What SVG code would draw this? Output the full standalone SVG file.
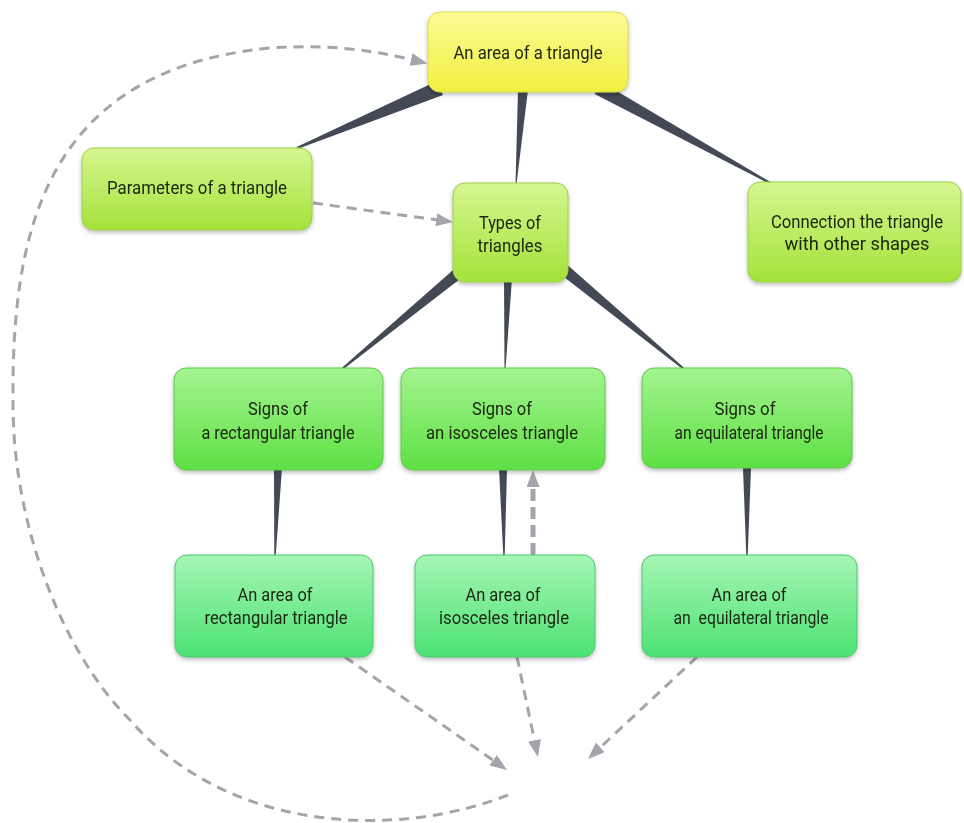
<svg xmlns="http://www.w3.org/2000/svg" width="964" height="823" viewBox="0 0 964 823">
<style>
.t{font-family:Roboto,"Liberation Sans",sans-serif;font-size:19px;fill:#1b2510;text-anchor:middle;white-space:pre}
.w{fill:#434a56}
.d{fill:none;stroke:#a4a4ac;stroke-width:3;stroke-dasharray:10 7;marker-end:url(#ah)}
.n{filter:url(#sh)}
.y{fill:url(#gy);stroke:#dada4a;stroke-width:1}
.l{fill:url(#gl);stroke:#9ad04a;stroke-width:1}
.s{fill:url(#gs);stroke:#5cc84a;stroke-width:1}
.a{fill:url(#ga);stroke:#4cc870;stroke-width:1}
</style>
<defs>
<linearGradient id="gy" x1="0" y1="0" x2="0" y2="1"><stop offset="0" stop-color="#fbfb96"/><stop offset="1" stop-color="#f0f040"/></linearGradient>
<linearGradient id="gl" x1="0" y1="0" x2="0" y2="1"><stop offset="0" stop-color="#d6f690"/><stop offset="1" stop-color="#a4e23a"/></linearGradient>
<linearGradient id="gs" x1="0" y1="0" x2="0" y2="1"><stop offset="0" stop-color="#a4f490"/><stop offset="1" stop-color="#5ee044"/></linearGradient>
<linearGradient id="ga" x1="0" y1="0" x2="0" y2="1"><stop offset="0" stop-color="#a6f6b4"/><stop offset="1" stop-color="#4ce274"/></linearGradient>
<filter id="sh" x="-10%" y="-10%" width="120%" height="130%"><feDropShadow dx="0" dy="2" stdDeviation="2" flood-color="#000" flood-opacity="0.28"/></filter>
<marker id="ah" viewBox="0 0 17 13" markerWidth="17" markerHeight="13" refX="2" refY="6.5" orient="auto" markerUnits="userSpaceOnUse"><path d="M0 0 L17 6.5 L0 13 Z" fill="#a4a4ac"/></marker>
</defs>
<g id="connectors">
<polygon class="w" points="443,95 437,81 296.6,147.1 297.4,148.9"/>
<polygon class="w" points="528,90 518,90 515.5,184 516.5,184"/>
<polygon class="w" points="594.6,94.1 601.4,81.9 770.5,182.1 769.5,183.9"/>
<polygon class="w" points="465.8,274.6 458.2,265.4 341.4,368.2 342.6,369.8"/>
<polygon class="w" points="512,278 504,278 504.5,369 505.5,369"/>
<polygon class="w" points="558.2,272.6 565.8,263.4 684.6,368.2 683.4,369.8"/>
<polygon class="w" points="282,468 274,468 274.3,556 275.7,556"/>
<polygon class="w" points="507,468 499,468 503.3,556 504.7,556"/>
<polygon class="w" points="751,468 743,468 746.3,556 747.7,556"/>
<path class="d" d="M313 203 L438.1 220"/>
<path class="d" d="M345 657 L494.7 761.4"/>
<path class="d" d="M517 657 L534.9 742.3"/>
<path class="d" d="M697 657 L598.9 748.7"/>
<path class="d" style="stroke-width:5;stroke-dasharray:12 6" d="M533 555 L533 485"/>
<path class="d" d="M508 795 C400 838,230 835,130 720 C60 650,12 520,13 400 C12 240,40 70,270 48 C330 44,370 50,413 60"/>
</g>
<g id="n-top" class="n"><rect class="y" x="428" y="12" width="200" height="80" rx="12"/><text class="t" x="528" y="59" textLength="149" lengthAdjust="spacingAndGlyphs">An area of a triangle</text></g>
<g id="n-params" class="n"><rect class="l" x="82" y="148" width="230" height="82" rx="12"/><text class="t" x="197" y="194" textLength="180" lengthAdjust="spacingAndGlyphs">Parameters of a triangle</text></g>
<g id="n-types" class="n"><rect class="l" x="453" y="183" width="115" height="99" rx="12"/><text class="t" x="510" y="229" textLength="62" lengthAdjust="spacingAndGlyphs">Types of</text><text class="t" x="510" y="252" textLength="65" lengthAdjust="spacingAndGlyphs">triangles</text></g>
<g id="n-conn" class="n"><rect class="l" x="748" y="182" width="213" height="100" rx="12"/><text class="t" style="font-size:18px" x="857" y="228" textLength="172" lengthAdjust="spacingAndGlyphs">Connection the triangle</text><text class="t" style="font-size:18px" x="857" y="250" textLength="145" lengthAdjust="spacingAndGlyphs">with other shapes</text></g>
<g id="n-sign-rect" class="n"><rect class="s" x="174" y="368" width="209" height="102" rx="12"/><text class="t" x="278" y="415" textLength="60" lengthAdjust="spacingAndGlyphs">Signs of</text><text class="t" x="278" y="439" textLength="153" lengthAdjust="spacingAndGlyphs">a rectangular triangle</text></g>
<g id="n-sign-iso" class="n"><rect class="s" x="401" y="368" width="204" height="102" rx="12"/><text class="t" x="502" y="415" textLength="60" lengthAdjust="spacingAndGlyphs">Signs of</text><text class="t" x="502" y="439" textLength="152" lengthAdjust="spacingAndGlyphs">an isosceles triangle</text></g>
<g id="n-sign-equi" class="n"><rect class="s" x="642" y="368" width="210" height="100" rx="12"/><text class="t" x="745" y="415" textLength="61" lengthAdjust="spacingAndGlyphs">Signs of</text><text class="t" x="749" y="439" textLength="149" lengthAdjust="spacingAndGlyphs">an equilateral triangle</text></g>
<g id="n-area-rect" class="n"><rect class="a" x="175" y="555" width="198" height="102" rx="12"/><text class="t" x="275" y="601" textLength="75" lengthAdjust="spacingAndGlyphs">An area of</text><text class="t" x="276" y="624" textLength="143" lengthAdjust="spacingAndGlyphs">rectangular triangle</text></g>
<g id="n-area-iso" class="n"><rect class="a" x="415" y="555" width="180" height="102" rx="12"/><text class="t" x="503" y="601" textLength="75" lengthAdjust="spacingAndGlyphs">An area of</text><text class="t" x="504" y="624" textLength="130" lengthAdjust="spacingAndGlyphs">isosceles triangle</text></g>
<g id="n-area-equi" class="n"><rect class="a" x="642" y="555" width="215" height="102" rx="12"/><text class="t" x="749" y="601" textLength="75" lengthAdjust="spacingAndGlyphs">An area of</text><text class="t" x="751" y="624" textLength="155" lengthAdjust="spacingAndGlyphs">an  equilateral triangle</text></g>
</svg>
